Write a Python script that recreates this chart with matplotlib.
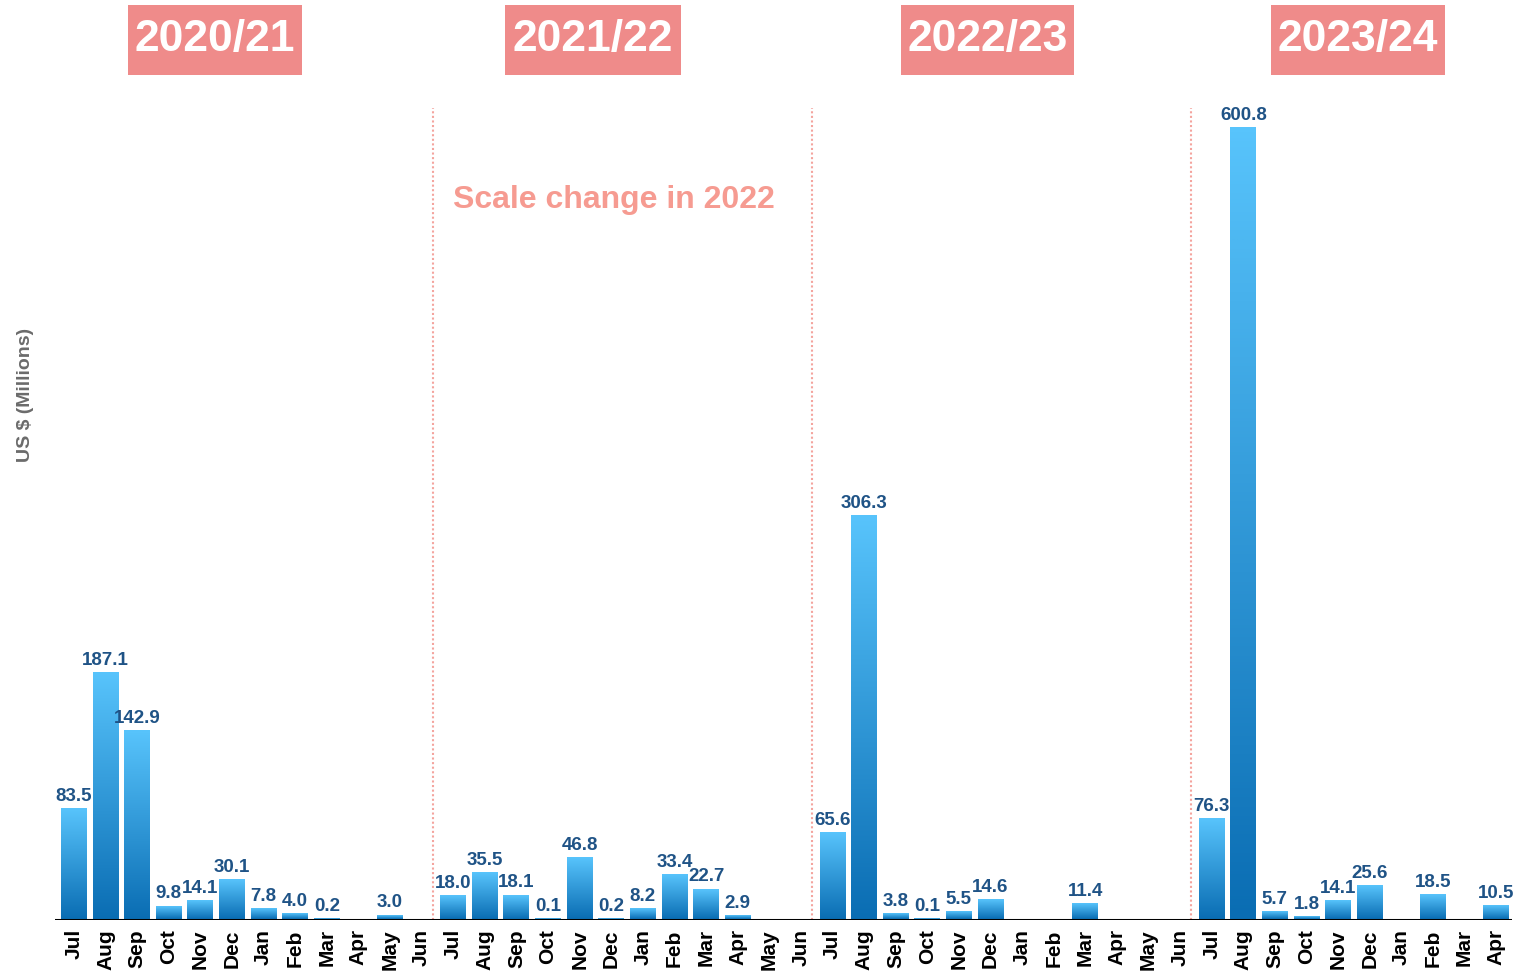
import numpy as np
import matplotlib
matplotlib.use("Agg")
import matplotlib.pyplot as plt
from matplotlib.patches import Rectangle
from matplotlib.colors import LinearSegmentedColormap

# Datos mensuales (US $ millones); None = sin valor
meses_fy = ["Jul", "Aug", "Sep", "Oct", "Nov", "Dec", "Jan", "Feb", "Mar", "Apr", "May", "Jun"]
años = ["2020/21", "2021/22", "2022/23", "2023/24"]
fy2020 = [83.5, 187.1, 142.9, 9.8, 14.1, 30.1, 7.8, 4.0, 0.2, None, 3.0, None]
fy2021 = [18.0, 35.5, 18.1, 0.1, 46.8, 0.2, 8.2, 33.4, 22.7, 2.9, None, None]
fy2022 = [65.6, 306.3, 3.8, 0.1, 5.5, 14.6, None, None, 11.4, None, None, None]
fy2023 = [76.3, 600.8, 5.7, 1.8, 14.1, 25.6, None, 18.5, None, 10.5]

series = [fy2020, fy2021, fy2022, fy2023]
valores = [v for s in series for v in s]
etiquetas = [meses_fy[i] for s in series for i in range(len(s))]
x = np.arange(len(valores))
alturas = np.array([np.nan if v is None else v for v in valores])

W, H = 1513, 976
fig = plt.figure(figsize=(W / 100, H / 100), dpi=100)
ax = fig.add_axes([55 / W, (H - 919.5) / H, (1512 - 55) / W, (919.5 - 108) / H])

fuente = ["Liberation Sans Narrow", "Liberation Sans", "DejaVu Sans"]
azul_txt = "#1f5386"
rosa = "#ef8b8a"

# barras (sin relleno) y luego degradado encima
bars = ax.bar(x, np.nan_to_num(alturas), width=0.82, facecolor="none", edgecolor="none")
cmap = LinearSegmentedColormap.from_list("azul", ["#0a6db3", "#58c4fc"])
grad = np.linspace(0, 1, 256).reshape(-1, 1)
for b in bars:
    h = b.get_height()
    if h <= 0:
        continue
    ax.imshow(grad, cmap=cmap, origin="lower", aspect="auto", interpolation="bicubic",
              extent=(b.get_x(), b.get_x() + b.get_width(), 0, h), zorder=2)

for xi, v in zip(x, valores):
    if v is None:
        continue
    ax.annotate(f"{v:.1f}", (xi, v), xytext=(0, 3), textcoords="offset points",
                ha="center", va="bottom", fontsize=13.5, fontweight="bold",
                color=azul_txt, family=fuente, zorder=3)

ax.set_xlim(-0.6, len(valores) - 0.5)
ax.set_ylim(0, 616)

# separadores entre años
inicio = 0
for s in series[:-1]:
    inicio += len(s)
    ax.axvline(inicio - 0.65, color="#f4a49e", lw=1.5, ls=(0, (1, 1.2)), zorder=1)

ax.axhline(0, color="black", lw=2.2, zorder=4)
for sp in ax.spines.values():
    sp.set_visible(False)
ax.set_yticks([])
ax.set_xticks(x)
ax.set_xticklabels(etiquetas, rotation=90, fontsize=15, fontweight="bold", family=fuente)
ax.tick_params(axis="x", length=0, pad=7)

fig.text(25 / W, 1 - 395 / H, "US $ (Millions)", rotation=90, ha="center", va="center",
         fontsize=14, fontweight="bold", color="#6b6b6b", family="Liberation Sans")

# cajas con el año fiscal
cajas = [(128, 302), (505, 681), (901, 1074), (1271, 1445)]
for (x0, x1), a in zip(cajas, años):
    fig.patches.append(Rectangle((x0 / W, 1 - 75 / H), (x1 - x0) / W, 70 / H,
                                 transform=fig.transFigure, facecolor=rosa, edgecolor="none"))
    fig.text((x0 + x1) / 2 / W, 1 - 40 / H, a, ha="center", va="center", fontsize=32,
             fontweight="bold", color="white", family=fuente)

fig.text(453 / W, 1 - 200 / H, "Scale change in 2022", ha="left", va="center",
         fontsize=23, fontweight="bold", color="#f69b91", family=fuente)

fig.savefig("out.png", dpi=100)
